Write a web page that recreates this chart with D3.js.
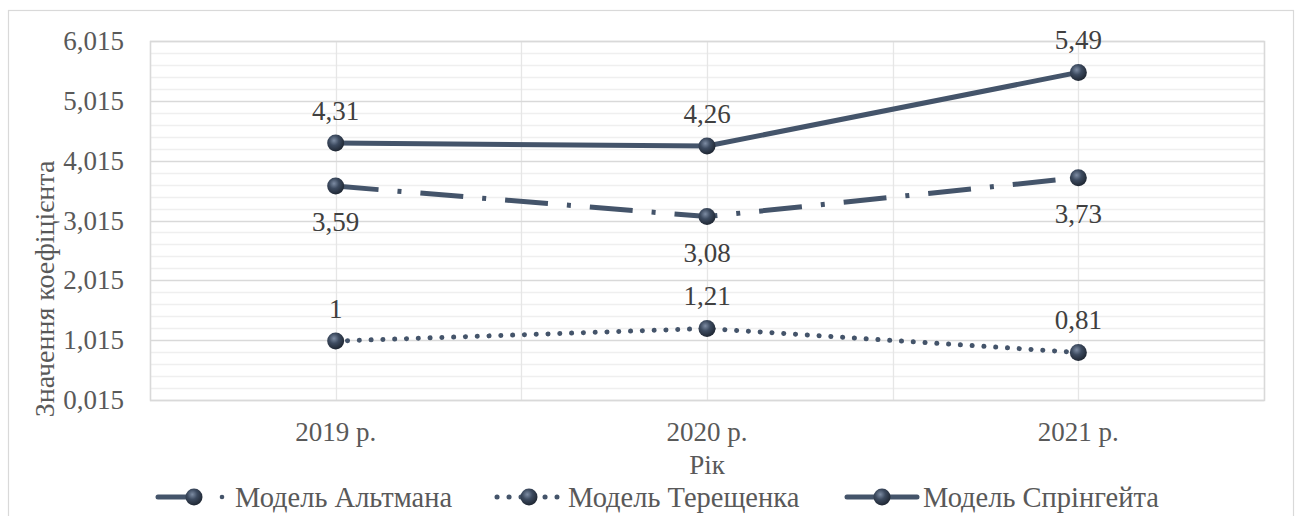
<!DOCTYPE html>
<html>
<head>
<meta charset="utf-8">
<script src="https://cdn.jsdelivr.net/npm/d3@7/dist/d3.min.js"></script>
<style>
  html, body { margin: 0; padding: 0; background: #fff; }
  svg, svg text { font-family: "Liberation Serif", "Times New Roman", Tinos, "DejaVu Serif", serif !important; }
</style>
</head>
<body>
<svg id="chart" width="1298" height="516"></svg>
<script>
// Categories and series
const years = ["2019 р.", "2020 р.", "2021 р."];
const altman = [3.59, 3.08, 3.73];
const tereshchenko = [1, 1.21, 0.81];
const springate = [4.31, 4.26, 5.49];
const yTicks = [0.015, 1.015, 2.015, 3.015, 4.015, 5.015, 6.015];
const seriesNames = ["Модель Альтмана", "Модель Терещенка", "Модель Спрінгейта"];
const yTitle = "Значення коефіцієнта";
const xTitle = "Рік";

const svg = d3.select("#chart");
const plot = { left: 150, right: 1264, top: 41, bottom: 400 };
const lineColor = "#44546A";
const fontSize = 27;
const legendSize = 28.5;
const serif = '"Liberation Serif", "Times New Roman", Tinos, "DejaVu Serif", serif';

// Sphere-like marker fill
const defs = svg.append("defs");
const grad = defs.append("radialGradient").attr("id", "ball")
  .attr("cx", "40%").attr("cy", "35%").attr("r", "65%");
grad.append("stop").attr("offset", "0%").attr("stop-color", "#7d8ca3");
grad.append("stop").attr("offset", "45%").attr("stop-color", "#3d4b60");
grad.append("stop").attr("offset", "100%").attr("stop-color", "#1f2733");

// Outer chart frame
svg.append("rect")
  .attr("x", 8.5).attr("y", 10.5).attr("width", 1285).attr("height", 520)
  .attr("fill", "#fff").attr("stroke", "#d9d9d9").attr("stroke-width", 1.2);

const x = d3.scaleBand().domain(years).range([plot.left, plot.right]).padding(0);
const y = d3.scaleLinear().domain([yTicks[0], yTicks[yTicks.length - 1]]).range([plot.bottom, plot.top]);
const cx = d => x(d) + x.bandwidth() / 2;
const fmt = v => String(v).replace(".", ",");

// Minor horizontal gridlines
const minor = d3.range(yTicks[0], yTicks[yTicks.length - 1] + 1e-9, 0.2)
  .filter(v => !yTicks.some(t => Math.abs(t - v) < 1e-6));
svg.append("g").selectAll("line").data(minor).join("line")
  .attr("x1", plot.left).attr("x2", plot.right)
  .attr("y1", d => Math.round(y(d)) + 0.5).attr("y2", d => Math.round(y(d)) + 0.5)
  .attr("stroke", "#efefef").attr("stroke-width", 1.3);

// Vertical gridlines at category centres and boundaries
const vLines = [];
years.forEach(d => { vLines.push(x(d)); vLines.push(cx(d)); });
vLines.push(plot.right);
svg.append("g").selectAll("line").data(vLines).join("line")
  .attr("x1", d => Math.round(d) + 0.5).attr("x2", d => Math.round(d) + 0.5)
  .attr("y1", plot.top).attr("y2", plot.bottom)
  .attr("stroke", "#e6e6e6").attr("stroke-width", 1.3);

// Major horizontal gridlines + y axis labels
const yAxis = d3.axisLeft(y).tickValues(yTicks).tickSize(0).tickPadding(26)
  .tickFormat(d => d.toFixed(3).replace(".", ","));
const yG = svg.append("g").attr("transform", `translate(${plot.left},0)`).call(yAxis)
  .attr("font-family", serif).attr("font-size", fontSize);
yG.select(".domain").remove();
yG.selectAll("text").attr("fill", "#595959");
svg.append("g").selectAll("line").data(yTicks).join("line")
  .attr("x1", plot.left).attr("x2", plot.right)
  .attr("y1", d => Math.round(y(d)) + 0.5).attr("y2", d => Math.round(y(d)) + 0.5)
  .attr("stroke", "#d9d9d9").attr("stroke-width", 1.5);

// Plot frame
svg.append("rect")
  .attr("x", plot.left + 0.5).attr("y", plot.top + 0.5)
  .attr("width", plot.right - plot.left).attr("height", plot.bottom - plot.top)
  .attr("fill", "none").attr("stroke", "#d9d9d9").attr("stroke-width", 1.5);

// X axis labels
const xAxis = d3.axisBottom(x).tickSize(0).tickPadding(22);
const xG = svg.append("g").attr("transform", `translate(0,${plot.bottom})`).call(xAxis)
  .attr("font-family", serif).attr("font-size", fontSize);
xG.select(".domain").remove();
xG.selectAll("text").attr("fill", "#595959");

// Axis titles
svg.append("text").attr("x", 707).attr("y", 474).attr("text-anchor", "middle")
  .attr("font-family", serif).attr("font-size", fontSize).attr("fill", "#595959").text(xTitle);
svg.append("text")
  .attr("transform", "translate(54,289) rotate(-90)")
  .attr("text-anchor", "middle").attr("font-family", serif)
  .attr("font-size", fontSize + 1).attr("fill", "#595959")
  .text(yTitle);

// Series definitions
const series = [
  { name: seriesNames[0], values: altman, dash: "43,19,4,19", cap: "butt", labelDy: 45 },
  { name: seriesNames[1], values: tereshchenko, dash: "0.1,11.7", cap: "round", labelDy: -23 },
  { name: seriesNames[2], values: springate, dash: null, cap: "round", labelDy: -23 }
];

const line = d3.line().x(d => cx(d.year)).y(d => y(d.value));

series.forEach(s => {
  const pts = years.map((yr, i) => ({ year: yr, value: s.values[i] }));
  const g = svg.append("g");
  g.append("path").datum(pts).attr("d", line)
    .attr("fill", "none").attr("stroke", lineColor).attr("stroke-width", 5)
    .attr("stroke-linecap", s.cap).attr("stroke-linejoin", "round")
    .attr("stroke-dasharray", s.dash);
  g.selectAll("circle").data(pts).join("circle")
    .attr("cx", d => cx(d.year)).attr("cy", d => y(d.value)).attr("r", 8.5)
    .attr("fill", "url(#ball)");
  g.selectAll("text").data(pts).join("text")
    .attr("x", d => cx(d.year)).attr("y", d => y(d.value) + s.labelDy)
    .attr("text-anchor", "middle").attr("font-family", serif)
    .attr("font-size", fontSize).attr("fill", "#404040")
    .text(d => fmt(d.value));
});

// Legend
const legY = 497;
const lg = svg.append("g");
function legendBall(px) {
  lg.append("circle").attr("cx", px).attr("cy", legY).attr("r", 8.5).attr("fill", "url(#ball)");
}
function legendText(px, t) {
  lg.append("text").attr("x", px).attr("y", legY + 10).attr("font-family", serif)
    .attr("font-size", legendSize).attr("fill", "#595959").text(t);
}
// Альтман sample: dash, marker, dot
lg.append("line").attr("x1", 158).attr("x2", 190).attr("y1", legY).attr("y2", legY)
  .attr("stroke", lineColor).attr("stroke-width", 5).attr("stroke-linecap", "round");
legendBall(194);
lg.append("circle").attr("cx", 222).attr("cy", legY).attr("r", 2.3).attr("fill", lineColor);
legendText(235, seriesNames[0]);
// Терещенко sample: dots, marker, dots
lg.append("line").attr("x1", 497).attr("x2", 557).attr("y1", legY).attr("y2", legY)
  .attr("stroke", lineColor).attr("stroke-width", 5).attr("stroke-linecap", "round")
  .attr("stroke-dasharray", "0.1,11.9");
legendBall(529);
legendText(568, seriesNames[1]);
// Спрінгейт sample: solid line with marker
lg.append("line").attr("x1", 847).attr("x2", 917).attr("y1", legY).attr("y2", legY)
  .attr("stroke", lineColor).attr("stroke-width", 5).attr("stroke-linecap", "round");
legendBall(882);
legendText(923, seriesNames[2]);
</script>
</body>
</html>
